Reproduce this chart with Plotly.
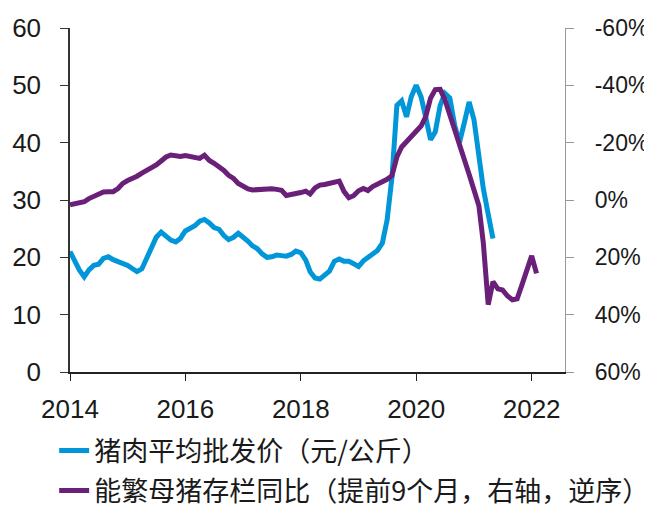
import plotly.graph_objects as go
import pandas as pd

# Monthly data starting Jan 2014
pork_price = [
    21.0, 19.3, 17.8, 16.6, 17.8, 18.6, 18.8, 19.8, 20.1, 19.6, 19.3, 19.1,
    18.6, 18.0, 17.5, 18.0, 19.9, 21.5, 23.5, 24.4, 23.7, 23.0, 22.7, 23.3,
    24.6, 25.0, 25.5, 26.3, 26.6, 26.0, 25.2, 24.9, 23.8, 23.1, 23.5, 24.2,
    23.6, 22.8, 22.0, 21.5, 20.6, 20.0, 20.1, 20.4, 20.3, 20.2, 20.5, 21.1,
    20.8, 19.5, 17.5, 16.4, 16.2, 16.8, 17.6, 19.3, 19.7, 19.3, 19.3, 18.9,
    18.4, 19.4, 20.1, 20.6, 21.2, 22.5, 26.5, 34.0, 46.5, 47.3, 44.5, 48.0,
    50.0, 48.0, 44.5, 40.5, 41.9, 46.5, 48.6, 47.8, 43.0, 40.0, 43.5, 47.1,
    44.0, 37.5, 32.0, 27.5, 23.3,
]

sow_yoy_pct = [
    1.7, 1.3, 1.0, 0.6, -0.5, -1.4, -2.0, -2.8, -2.9, -2.9, -4.0, -5.8,
    -6.8, -7.5, -8.3, -9.4, -10.3, -11.2, -12.2, -13.6, -15.0, -15.7, -15.5, -15.2,
    -15.5, -15.3, -14.9, -14.5, -15.6, -13.8, -12.8, -11.8, -10.3, -8.6, -7.5, -5.8,
    -4.6, -3.9, -3.5, -3.6, -3.9, -4.1, -3.9, -3.7, -3.4, -1.6, -1.8, -2.0,
    -2.6, -3.1, -2.1, -4.2, -5.2, -5.4, -5.7, -6.2, -6.6, -3.0, -0.8, -1.5,
    -3.2, -4.0, -3.3, -4.7, -5.5, -6.0, -7.2, -8.5, -15.0, -18.5, -20.3, -22.0,
    -24.0, -25.8, -29.0, -35.5, -38.5, -38.6, -35.0, -30.0, -24.5, -19.5, -14.5, -9.0,
    -3.5, 2.0, 15.0, 36.5, 28.5, 31.0, 31.4, 33.5, 34.8, 34.5, 29.5, 24.5,
    19.5, 25.6,
]

pork_dates = [d.strftime("%Y-%m-%d") for d in
              pd.date_range("2014-01-01", periods=len(pork_price), freq="MS")]
sow_dates = [d.strftime("%Y-%m-%d") for d in
             pd.date_range("2014-01-01", periods=len(sow_yoy_pct), freq="MS")]

x_tick_vals = ["2014-01-01", "2016-01-01", "2018-01-01", "2020-01-01", "2022-01-01"]
x_tick_text = ["2014", "2016", "2018", "2020", "2022"]
left_tick_vals = [0, 10, 20, 30, 40, 50, 60]
right_tick_vals = [-60, -40, -20, 0, 20, 40, 60]
right_tick_text = ["-60%", "-40%", "-20%", "0%", "20%", "40%", "60%"]

name_price = "猪肉平均批发价（元/公斤）"
name_sow = "能繁母猪存栏同比（提前9个月，右轴，逆序）"

BLUE = "#0096D8"
PURPLE = "#6A1F79"
FONT = "Liberation Sans, Arial, Noto Sans CJK SC, sans-serif"

fig = go.Figure()
fig.add_trace(go.Scatter(x=pork_dates, y=pork_price, mode="lines", name=name_price,
                         legendgroup="a", line=dict(color=BLUE, width=5)))
fig.add_trace(go.Scatter(x=sow_dates, y=sow_yoy_pct, mode="lines", name=name_sow,
                         legendgroup="b", yaxis="y2", line=dict(color=PURPLE, width=5)))

# page body has an 8px default margin, so the figure is 8px smaller than the window
fig.update_layout(
    width=644, height=501,
    margin=dict(l=62, r=87, t=20, b=137, autoexpand=False),
    paper_bgcolor="white", plot_bgcolor="white",
    font=dict(family=FONT, size=26, color="#1a1a1a"),
    showlegend=True,
    legend=dict(
        orientation="v",
        x=-0.032, y=-0.158, xanchor="left", yanchor="top",
        font=dict(family="Noto Sans CJK SC, sans-serif", size=27, color="#1a1a1a"),
        bgcolor="rgba(0,0,0,0)", tracegroupgap=2,
    ),
    xaxis=dict(
        type="date",
        range=["2014-01-01", "2022-07-31"],
        tickvals=x_tick_vals, ticktext=x_tick_text,
        showgrid=False, zeroline=False,
        showline=True, linecolor="#222", linewidth=1.5,
        ticks="outside", ticklen=7, tickcolor="#222", tickwidth=1.2,
        ticklabelstandoff=6,
        tickfont=dict(size=26),
    ),
    yaxis=dict(
        range=[0, 60], tickvals=left_tick_vals,
        showgrid=False, zeroline=False,
        showline=True, linecolor="#333", linewidth=1.5,
        ticks="outside", ticklen=8, tickcolor="#333", tickwidth=1.2,
        ticklabelstandoff=14,
        tickfont=dict(size=26),
    ),
    yaxis2=dict(
        overlaying="y", side="right",
        range=[60, -60], tickvals=right_tick_vals, ticktext=right_tick_text,
        showgrid=False, zeroline=False,
        showline=True, linecolor="#999", linewidth=1.2,
        ticks="outside", ticklen=8, tickcolor="#999", tickwidth=1.2,
        ticklabelstandoff=16,
        tickfont=dict(size=23),
    ),
)

fig.write_html("out.html")
